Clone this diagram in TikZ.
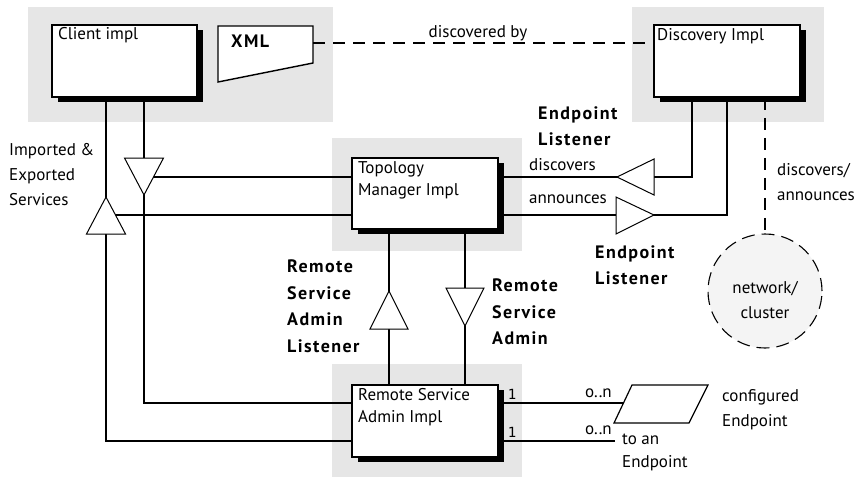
\documentclass[tikz,border=0pt]{standalone}
\usepackage{fontspec}
\setmainfont{PT Sans}
\newfontfamily\lblbf[LetterSpace=8]{PT Sans}
\setmonofont{DejaVu Sans Mono}
\usetikzlibrary{shadows}
\definecolor{panelgray}{HTML}{E6E6E6}
\definecolor{cloudgray}{HTML}{F4F4F4}
\begin{document}
\begin{tikzpicture}[x=1pt,y=-1pt,
  panel/.style={fill=panelgray},
  box/.style={draw, fill=white, line width=1.8pt, inner sep=0pt, anchor=north west,
    drop shadow={shadow xshift=6pt, shadow yshift=-5pt, fill=black, opacity=1}},
  conn/.style={line width=1.8pt},
  tri/.style={draw, fill=white, line width=1pt, line join=miter},
  dashline/.style={line width=1.6pt, dash pattern=on 12pt off 8pt},
  txt/.style={inner sep=0pt, font=\fontsize{17}{25}\selectfont, align=left, anchor=north west},
  boxtxt/.style={inner sep=0pt, font=\fontsize{17}{22}\selectfont, align=left, anchor=north west},
  bold/.style={inner sep=0pt, font=\fontsize{18}{26.5}\lblbf\bfseries, align=left, anchor=north west},
  mono/.style={inner sep=0pt, font=\fontsize{14}{16}\ttfamily}
]
\useasboundingbox (0,0) rectangle (860,477);

% grey panels
\fill[panel] (28,7) rectangle (333,122);
\fill[panel] (632,7) rectangle (824,122);
\fill[panel] (332,138) rectangle (522,251);
\fill[panel] (332,364) rectangle (522,477);

% boxes
\node[box, minimum width=145pt, minimum height=72pt] (client) at (51,24) {};
\node[box, minimum width=146pt, minimum height=72pt] (disc) at (653,24) {};
\node[box, minimum width=146pt, minimum height=71pt] (topo) at (351,157) {};
\node[box, minimum width=146pt, minimum height=72pt] (rsa) at (351,384) {};

\node[boxtxt] (clientlbl) at (58,27.5) {Client impl};
\node[boxtxt] (disclbl) at (657,28.5) {Discovery Impl};
\node[boxtxt] (topolbl) at (358,161.5) {Topology\\Manager Impl};
\node[boxtxt] (rsalbl) at (358,388.5) {Remote Service\\Admin Impl};

% XML document shape
\coordinate (xmlr) at (313,43);
\draw[line width=1.4pt, fill=white] (218,26) -- (313,26) -- (313,63) -- (218,82) -- cycle;
\node[inner sep=0pt, font=\fontsize{18}{20}\lblbf\bfseries, anchor=west] (xmllbl) at (231,41) {XML};

% discovered by
\draw[dashline] (xmlr) -- (disc.west |- xmlr);
\node[inner sep=0pt, font=\fontsize{17}{20}\selectfont] (discby) at (478,33) {discovered by};

% network cloud
\node[circle, draw, fill=cloudgray, line width=1.1pt, dash pattern=on 13pt off 7pt, minimum size=114pt, inner sep=0pt] (cloud) at (765,291) {};
\node[inner sep=0pt, font=\fontsize{17}{25}\selectfont, align=center] (cloudlbl) at (765,300) {network/\\cluster};
\draw[dashline] (765,0 |- disc.south) -- (cloud.north);

% left column connectors
\draw[conn] (144,0 |- client.south) -- (144,403) -- (rsa.west |- 0,403);
\draw[conn] (106,0 |- client.south) -- (106,441) -- (rsa.west |- 0,441);
\draw[conn] (144,177) -- (topo.west |- 0,177);
\draw[conn] (106,215) -- (topo.west |- 0,215);

% topology right connectors
\draw[conn] (topo.east |- 0,177) -- (692,177) -- (692,0 |- disc.south);
\draw[conn] (topo.east |- 0,215) -- (727,215) -- (727,0 |- disc.south);

% topology - rsa
\draw[conn] (389,0 |- topo.south) -- (389,0 |- rsa.north);
\draw[conn] (465,0 |- topo.south) -- (465,0 |- rsa.north);

% rsa right side
\coordinate (paraw) at (623.5,403);
\coordinate (endfree) at (615,441);
\draw[conn] (rsa.east |- paraw) -- (paraw);
\draw[conn] (rsa.east |- endfree) -- (endfree);
\draw[line width=1.2pt, fill=white] (632,385) -- (708,385) -- (689,423) -- (614,423) -- cycle;

% triangles
\draw[tri] (124.5,158) -- (163.5,158) -- (144,195) -- cycle;
\draw[tri] (86.5,234) -- (125.5,234) -- (106,197) -- cycle;
\draw[tri] (654,159) -- (654,195) -- (617,177) -- cycle;
\draw[tri] (616,197) -- (616,234) -- (654,215) -- cycle;
\draw[tri] (370,329) -- (408,329) -- (389,291) -- cycle;
\draw[tri] (446,288) -- (484,288) -- (465,326) -- cycle;

% labels
\node[txt] (impexp) at (9,143.5) {Imported \&\\Exported\\Services};
\node[txt] (discovers) at (529,158.5) {discovers};
\node[txt] (announces) at (529,194.5) {announces};
\node[txt] (discann) at (777,163.5) {discovers/\\announces};
\node[bold] (epl1) at (538,106) {Endpoint\\Listener};
\node[bold] (epl2) at (595,245) {Endpoint\\Listener};
\node[bold] (rsal) at (287,260) {Remote\\Service\\Admin\\Listener};
\node[bold] (rsad) at (492,279) {Remote\\Service\\Admin};
\node[txt] (confep) at (722,389.5) {configured\\Endpoint};
\node[txt, font=\fontsize{17}{23}\selectfont] (toan) at (622,433.5) {to an\\Endpoint};
\node[txt, anchor=west] (on1) at (585,393) {o..n};
\node[txt, anchor=west] (on2) at (585,430) {o..n};
\node[mono] (one1) at (512,394) {1};
\node[mono] (one2) at (512,432) {1};
\end{tikzpicture}
\end{document}
